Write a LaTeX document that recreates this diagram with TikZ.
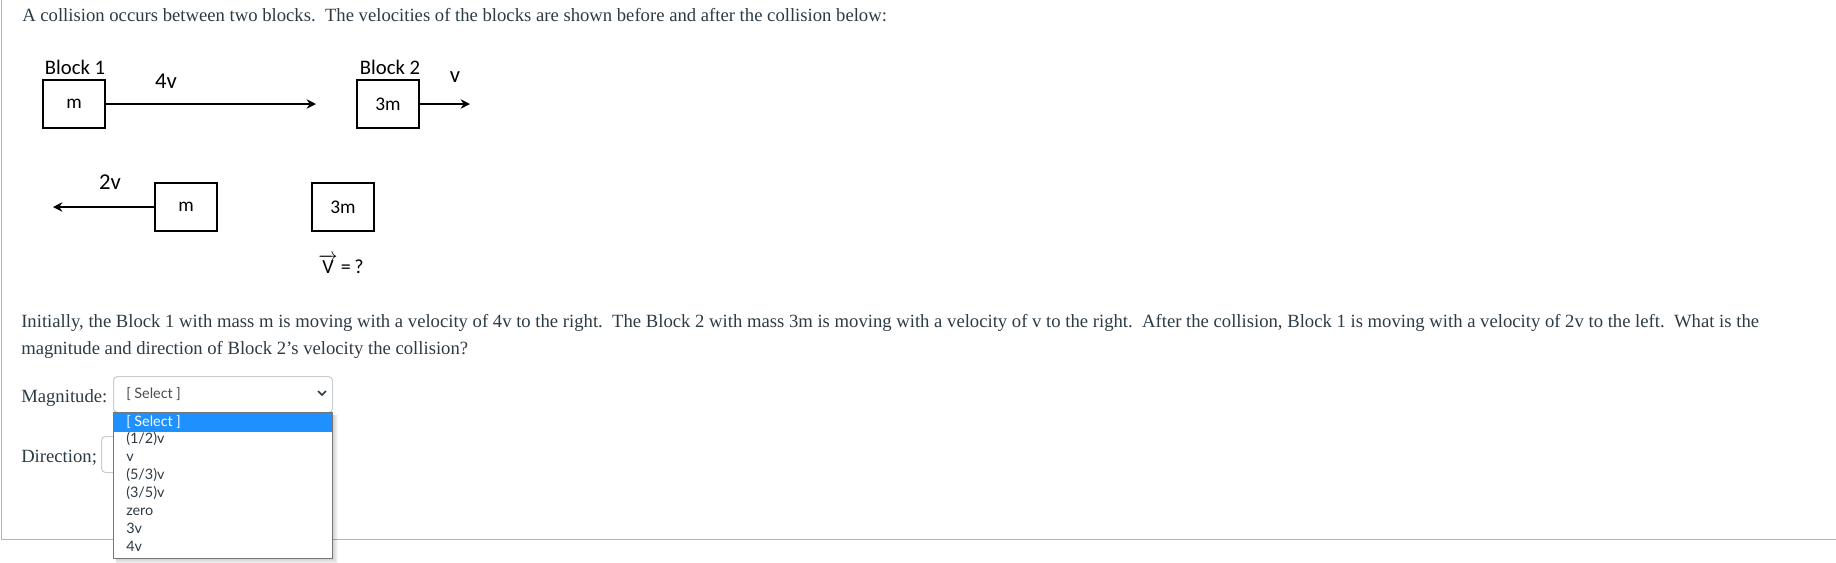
\documentclass[tikz,border=0pt]{standalone}
\usepackage{fontspec}
\setmainfont{Liberation Serif}
\newfontfamily\calibri{Carlito}
\newfontfamily\lato{Lato}
\usetikzlibrary{positioning,arrows.meta}

\definecolor{canvastext}{HTML}{2D3B45}
\definecolor{rulegray}{HTML}{B5B5B5}
\definecolor{selborder}{HTML}{C7CDD1}
\definecolor{listborder}{HTML}{767676}
\definecolor{pickblue}{HTML}{1E90FF}

\begin{document}
\begin{tikzpicture}[
  x=0.75pt, y=-0.75pt,
  >={Stealth[length=7pt,width=7pt]},
  prose/.style={anchor=base west, inner sep=0pt, text=canvastext, font=\fontsize{14}{16}\selectfont},
  blockbox/.style={draw, line width=1.1pt, minimum width=46.5pt, minimum height=36pt, inner sep=0pt, font=\calibri\fontsize{14.5}{16}\selectfont},
  lbl/.style={inner sep=0pt, font=\calibri\fontsize{15.5}{17}\selectfont},
  vlbl/.style={inner sep=0pt, font=\calibri\fontsize{17}{19}\selectfont},
  vel/.style={->, line width=2pt},
  item/.style={anchor=base west, inner sep=0pt, text=canvastext, font=\lato\fontsize{10.8}{12}\selectfont},
  selbox/.style={draw=selborder, fill=white, rounded corners=3pt, line width=0.75pt, anchor=north west, minimum width=164.25pt, minimum height=27pt, inner sep=0pt}
]
\useasboundingbox (0,0) rectangle (1836,562);

% page frame
\draw[rulegray, line width=0.75pt] (1,0) -- (1,539) -- (1836,539);

\node[prose] (title) at (22,21) {A collision occurs between two blocks.\ \ The velocities of the blocks are shown before and after the collision below:};

% Before the collision
\node[blockbox] (b1) at (74,104) {m};
\node[lbl] (b1name) at (75,67) {Block 1};
\node[blockbox] (b2) at (388,104) {3m};
\node[lbl] (b2name) at (390,67) {Block 2};
\coordinate (b1tip) at (316,104);
\coordinate (b2tip) at (470,104);
\draw[vel] (b1) -- (b1tip);
\draw[vel] (b2) -- (b2tip);
\node[vlbl] (v1) at (166,81) {4v};
\node[vlbl] (v2) at (455,77) {v};

% After the collision
\node[blockbox] (a1) at (186,207) {m};
\node[blockbox] (a2) at (343,207) {3m};
\coordinate (a1tip) at (53,207);
\draw[vel] (a1) -- (a1tip);
\node[vlbl] (u1) at (110,182) {2v};
\node[inner sep=0pt, font=\calibri\fontsize{15}{17}\selectfont] (u2) at (341,264) {$\overrightarrow{\mbox{V}}$\,=\,?};

% Question
\node[prose] (q1) at (21,327) {Initially, the Block 1 with mass m is moving with a velocity of 4v to the right.\ \ The Block 2 with mass 3m is moving with a velocity of v to the right.\ \ After the collision, Block 1 is moving with a velocity of 2v to the left.\ \ What is the};
\node[prose] (q2) at (21,354) {magnitude and direction of Block 2{\char"0027}s velocity the collision?};

% Answer fields
\node[prose] (maglbl) at (21,402) {Magnitude:};
\node[selbox] (magsel) at (113,376) {};
\node[item, text=black!70] (magtxt) at (126,398) {[ Select ]};
\draw[canvastext, line width=1.3pt] (318,391) -- (322,395) -- (326,391);

\node[prose] (dirlbl) at (21,462) {Direction;};
\node[selbox] (dirsel) at (101,436) {};

% open drop-down list
\foreach \s in {1,...,6}
  \fill[black, opacity=0.035] (116,415) rectangle ({332+\s},{558+\s});
\node[draw=listborder, fill=white, anchor=north west, minimum width=164.25pt, minimum height=109.5pt, inner sep=0pt, line width=0.75pt] (list) at (113,412) {};
\node[fill=pickblue, anchor=north west, minimum width=163.5pt, minimum height=14.25pt, inner sep=0pt] (pick) at (113.5,413) {};
\node[item, text=white] (opt0) at (126,426) {[ Select ]};
\foreach \txt [count=\i] in {{(1/2)v}, v, {(5/3)v}, {(3/5)v}, zero, 3v, 4v}
  \node[item] (opt\i) at (126,{426+17.9*\i}) {\txt};

\end{tikzpicture}
\end{document}
